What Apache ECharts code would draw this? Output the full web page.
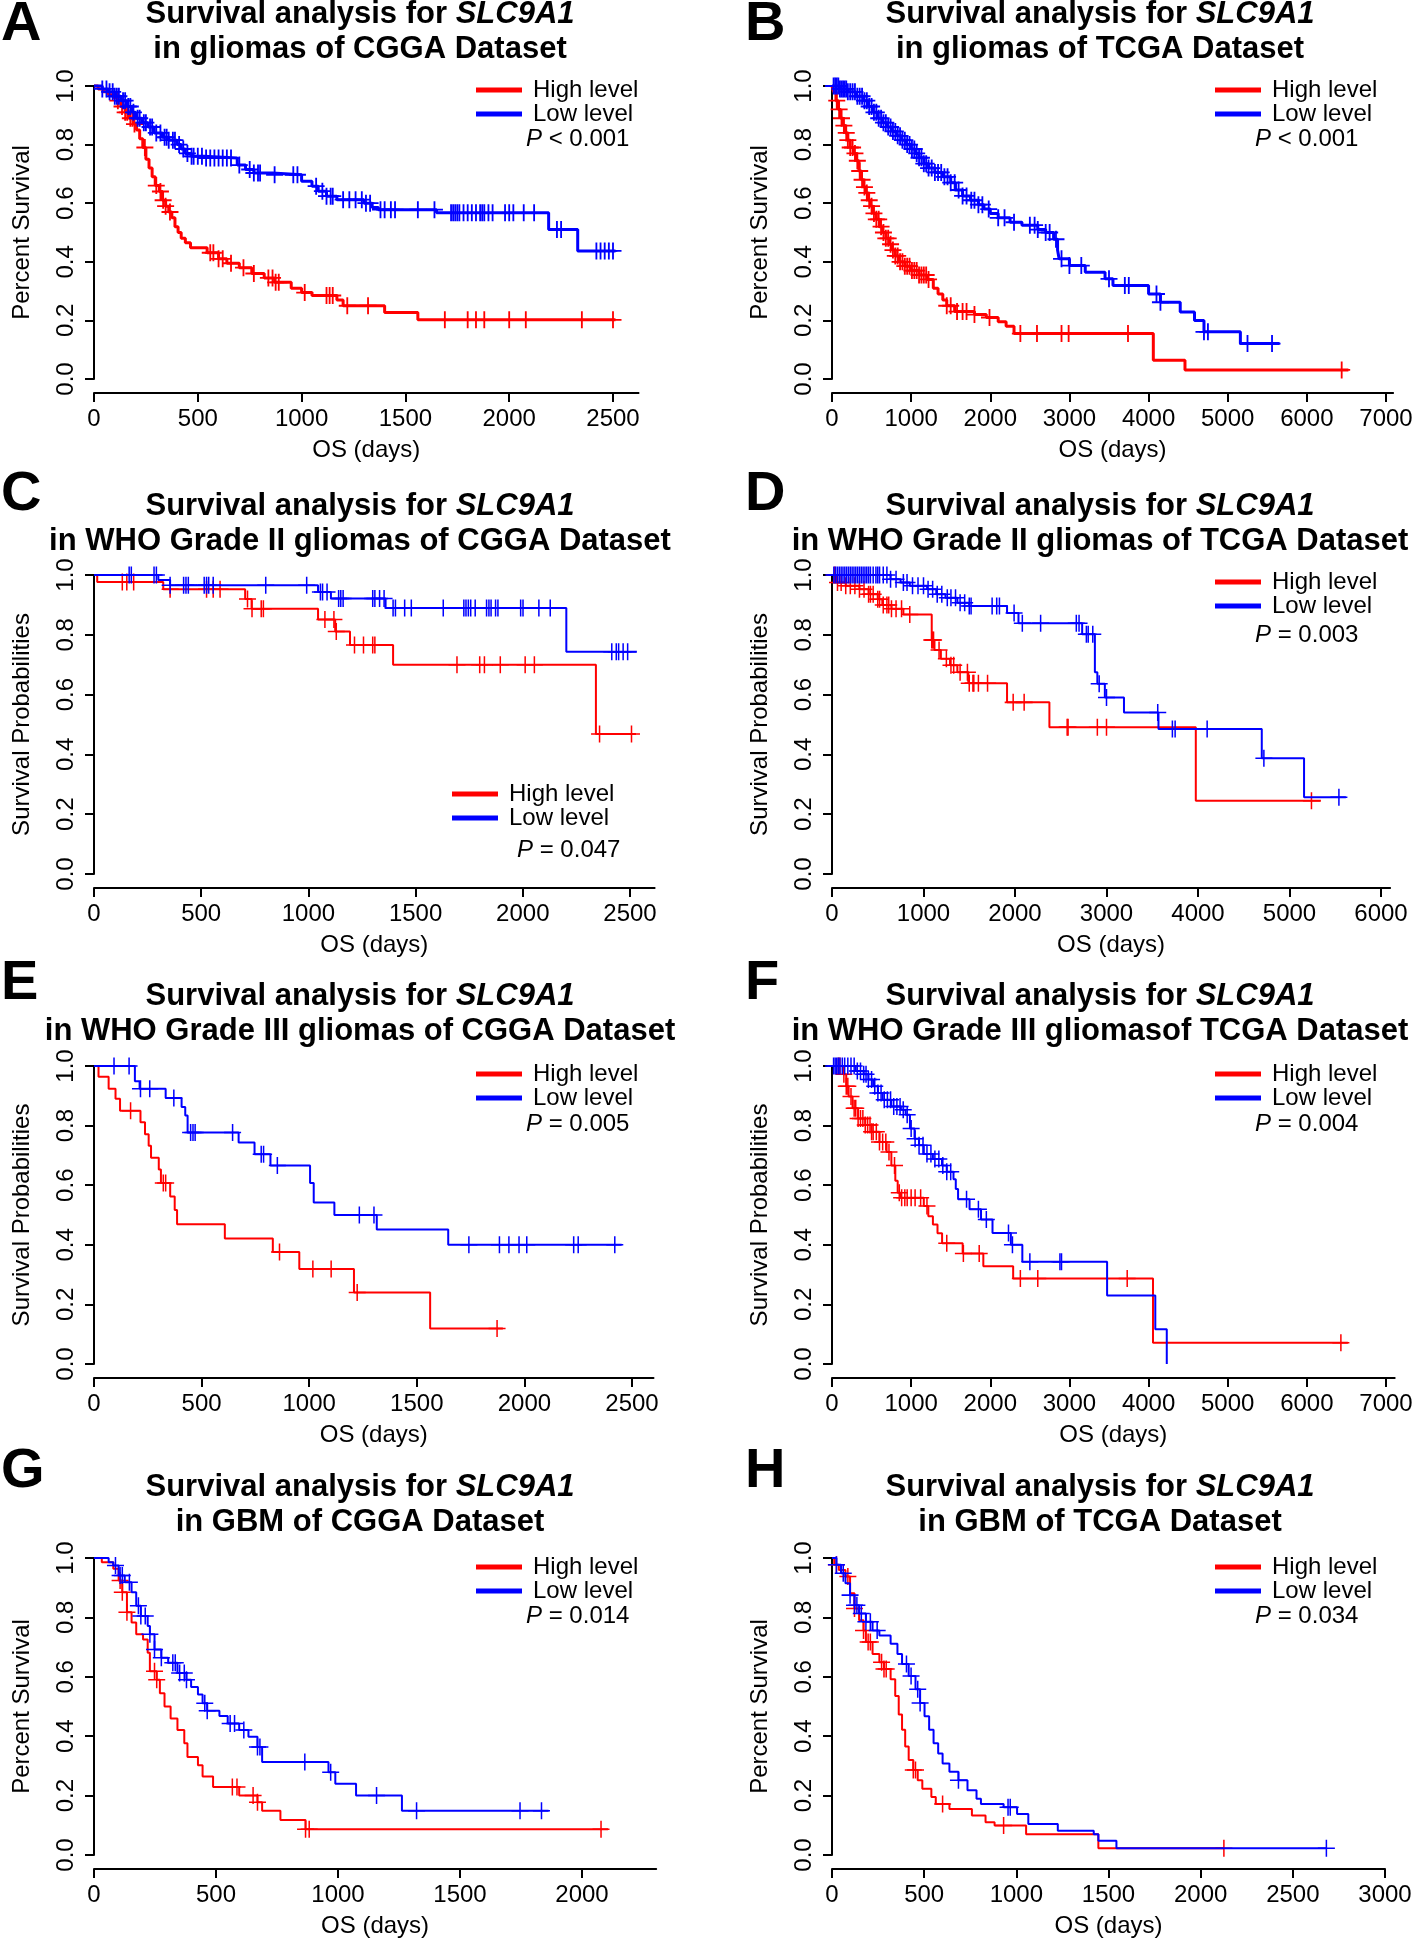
<!DOCTYPE html>
<html><head><meta charset="utf-8">
<script src="https://cdn.jsdelivr.net/npm/echarts@6/dist/echarts.min.js"></script>
<style>html,body{margin:0;padding:0;background:#fff}#c{width:1418px;height:1941px}</style>
</head><body><div id="c"></div>
<script>
// ---------------- DATA ----------------
// [time (days), survival after the event]
const aHighSteps = [[0,1],[20,0.99],[45,0.98],[70,0.97],[95,0.96],[115,0.95],[130,0.93],[150,0.91],[170,0.89],[190,0.87],[205,0.85],[220,0.82],[235,0.79],[250,0.75],[265,0.72],[280,0.69],[295,0.66],[315,0.64],[330,0.61],[345,0.59],[360,0.57],[375,0.55],[390,0.52],[405,0.50],[420,0.48],[440,0.465],[465,0.448],[545,0.431],[600,0.41],[640,0.395],[700,0.38],[760,0.36],[820,0.345],[870,0.33],[950,0.31],[1000,0.295],[1050,0.285],[1170,0.27],[1200,0.25],[1400,0.227],[1560,0.202]];
const aHighCensor = [115,135,150,160,175,185,195,245,300,320,333,345,366,560,575,600,620,660,720,770,840,860,875,890,1015,1120,1135,1150,1220,1320,1690,1800,1840,1880,2000,2080,2350,2500];
const aLowSteps = [[0,1],[40,0.99],[70,0.98],[100,0.965],[130,0.95],[160,0.93],[185,0.91],[200,0.89],[230,0.875],[260,0.86],[290,0.84],[330,0.825],[360,0.815],[400,0.80],[420,0.785],[440,0.77],[470,0.76],[530,0.754],[690,0.73],[730,0.715],[770,0.703],[860,0.697],[1000,0.675],[1050,0.658],[1080,0.641],[1120,0.624],[1170,0.612],[1300,0.60],[1340,0.585],[1370,0.578],[1650,0.567],[2190,0.51],[2330,0.437]];
const aLowCensor = [40,60,75,90,100,110,120,140,150,165,175,190,210,220,240,250,270,280,300,320,340,350,360,380,390,410,430,450,470,480,500,520,540,560,580,600,620,640,660,700,750,770,790,800,870,960,980,1070,1100,1120,1140,1150,1200,1230,1260,1290,1310,1330,1380,1400,1430,1450,1560,1640,1720,1730,1740,1750,1760,1780,1800,1820,1840,1860,1870,1880,1900,1920,1980,2000,2020,2070,2120,2230,2250,2420,2440,2460,2480,2500];

const bHighSteps = [[0,1],[20,0.98],[50,0.95],[80,0.92],[110,0.89],[140,0.865],[170,0.84],[200,0.815],[230,0.79],[270,0.77],[310,0.745],[340,0.71],[370,0.68],[400,0.655],[430,0.635],[460,0.61],[490,0.59],[520,0.565],[560,0.545],[600,0.52],[640,0.50],[680,0.48],[720,0.46],[760,0.44],[800,0.42],[850,0.40],[920,0.385],[1000,0.37],[1100,0.355],[1200,0.34],[1280,0.31],[1340,0.29],[1400,0.27],[1450,0.25],[1550,0.23],[1800,0.22],[1950,0.21],[2100,0.195],[2200,0.18],[2300,0.155],[4060,0.064],[4460,0.031]];
const bHighCensor = [60,90,120,150,180,200,230,260,290,320,350,380,410,440,470,500,530,560,590,620,650,680,710,740,770,800,830,860,890,920,950,980,1010,1040,1070,1100,1130,1160,1190,1220,1450,1500,1580,1650,1700,1800,1990,2380,2590,2900,2990,3740,6440];
const bLowSteps = [[0,1],[100,0.99],[200,0.98],[300,0.965],[400,0.95],[460,0.93],[520,0.91],[580,0.89],[640,0.875],[700,0.86],[760,0.845],[820,0.83],[880,0.815],[940,0.80],[1000,0.785],[1050,0.77],[1100,0.755],[1160,0.735],[1220,0.72],[1300,0.705],[1400,0.69],[1500,0.67],[1560,0.645],[1650,0.625],[1750,0.61],[1850,0.595],[1920,0.58],[2000,0.565],[2100,0.55],[2250,0.535],[2400,0.525],[2600,0.51],[2700,0.50],[2800,0.477],[2850,0.44],[2870,0.41],[3000,0.387],[3200,0.364],[3450,0.342],[3550,0.319],[4000,0.29],[4150,0.262],[4400,0.229],[4580,0.2],[4700,0.161],[5160,0.121]];
const bLowCensor = [20,40,60,80,100,120,140,160,180,200,230,260,290,320,350,380,410,440,470,500,530,560,590,620,650,680,710,740,770,800,830,860,890,920,950,980,1010,1040,1070,1100,1130,1160,1190,1220,1260,1300,1340,1380,1420,1460,1500,1550,1600,1650,1700,1760,1800,1850,1900,1980,2100,2180,2300,2500,2560,2600,2700,2750,2830,2900,3000,3150,3500,3700,3750,4100,4150,4700,4750,5250,5560];

const cHighSteps = [[0,1],[15,0.977],[323,0.952],[705,0.92],[735,0.887],[1045,0.851],[1125,0.811],[1194,0.766],[1395,0.70],[2341,0.468]];
const cHighCensor = [132,153,185,355,525,556,588,716,737,780,790,1077,1119,1130,1215,1257,1300,1310,1693,1799,1821,1895,2011,2054,2358,2507];
const cLowSteps = [[0,1],[300,0.983],[355,0.966],[1045,0.943],[1105,0.921],[1360,0.89],[2203,0.743]];
const cLowCensor = [164,174,280,291,355,418,429,440,514,525,535,556,801,992,1056,1066,1087,1141,1151,1162,1300,1310,1332,1353,1395,1406,1449,1480,1629,1725,1735,1746,1757,1778,1831,1842,1852,1873,1884,1990,2001,2075,2128,2415,2436,2447,2468,2489];

const dHighSteps = [[0,1],[50,0.975],[150,0.964],[300,0.952],[400,0.936],[500,0.919],[550,0.90],[650,0.887],[780,0.868],[1090,0.783],[1120,0.749],[1190,0.72],[1290,0.698],[1370,0.675],[1490,0.638],[1913,0.574],[2376,0.491],[3976,0.245]];
const dHighCensor = [30,60,100,150,200,250,300,350,400,420,450,500,520,560,600,620,650,700,760,850,1090,1100,1110,1170,1250,1300,1330,1400,1480,1500,1540,1550,1600,1700,1980,2100,2570,2580,2900,3000,5240];
const dLowSteps = [[0,1],[640,0.986],[750,0.975],[850,0.964],[1040,0.952],[1140,0.936],[1240,0.924],[1370,0.907],[1500,0.896],[1913,0.873],[2038,0.839],[2734,0.802],[2873,0.675],[2900,0.636],[2982,0.59],[3191,0.54],[3568,0.485],[4697,0.387],[5159,0.257]];
const dLowCensor = [20,40,60,80,100,120,140,160,180,200,220,240,260,280,300,320,340,360,380,400,420,450,480,500,520,560,600,640,700,780,820,880,940,1000,1050,1100,1150,1200,1260,1300,1350,1400,1450,1500,1520,1750,1800,1830,1990,2080,2280,2670,2700,2780,2800,2850,2920,3000,3560,3720,3750,4100,4720,5540];

const eHighSteps = [[0,1],[21,0.964],[68,0.924],[100,0.89],[121,0.85],[216,0.811],[237,0.771],[254,0.732],[265,0.692],[301,0.653],[311,0.607],[354,0.562],[375,0.517],[386,0.469],[608,0.421],[831,0.376],[954,0.319],[1208,0.24],[1562,0.119]];
const eHighCensor = [170,322,333,862,1017,1102,1223,1873];
const eLowSteps = [[0,1],[190,0.949],[212,0.924],[333,0.893],[407,0.862],[424,0.834],[435,0.777],[672,0.743],[746,0.704],[820,0.666],[1004,0.607],[1021,0.542],[1117,0.5],[1314,0.451],[1646,0.4]];
const eLowCensor = [93,163,216,259,371,449,460,470,644,777,788,852,1233,1301,1742,1884,1928,1975,2011,2229,2250,2420];

const fHighSteps = [[0,1],[145,0.972],[180,0.932],[210,0.898],[260,0.858],[330,0.824],[420,0.802],[500,0.779],[600,0.745],[690,0.711],[750,0.666],[800,0.615],[830,0.575],[869,0.558],[1160,0.53],[1217,0.496],[1275,0.468],[1333,0.439],[1391,0.405],[1651,0.371],[1912,0.328],[2289,0.287],[4056,0.071]];
const fHighCensor = [80,100,150,180,200,240,280,300,330,360,390,420,450,480,500,520,560,600,640,680,720,790,850,880,920,950,1000,1050,1120,1200,1450,1660,1860,2380,2600,3730,6430];
const fLowSteps = [[0,1],[300,0.983],[400,0.972],[460,0.955],[520,0.932],[580,0.909],[640,0.887],[750,0.864],[870,0.853],[930,0.836],[985,0.79],[1043,0.756],[1100,0.734],[1160,0.705],[1275,0.688],[1390,0.666],[1450,0.645],[1535,0.62],[1564,0.587],[1593,0.553],[1738,0.519],[1883,0.485],[2028,0.44],[2260,0.40],[2405,0.343],[3476,0.23],[4085,0.117],[4230,0]];
const fLowCensor = [20,40,60,80,100,130,160,200,240,280,320,360,400,430,460,500,540,580,620,660,700,740,780,820,860,900,950,1000,1050,1100,1150,1200,1250,1300,1350,1400,1450,1500,1700,1850,1950,2230,2280,2500,2880,2900];

const gHighSteps = [[0,1],[32,0.986],[79,0.964],[101,0.924],[116,0.885],[135,0.817],[154,0.783],[173,0.743],[201,0.726],[220,0.681],[229,0.619],[257,0.59],[270,0.545],[289,0.5],[314,0.46],[342,0.421],[370,0.376],[383,0.33],[426,0.302],[445,0.264],[488,0.229],[595,0.20],[670,0.178],[689,0.149],[764,0.118],[867,0.087]];
const gHighCensor = [107,116,135,248,257,567,586,652,670,867,882,2078];
const gLowSteps = [[0,1],[60,0.986],[79,0.975],[101,0.941],[126,0.918],[154,0.885],[173,0.839],[192,0.805],[220,0.771],[229,0.743],[248,0.692],[276,0.664],[304,0.647],[342,0.613],[379,0.59],[398,0.566],[426,0.54],[445,0.511],[464,0.486],[514,0.468],[548,0.443],[595,0.421],[633,0.398],[670,0.364],[689,0.313],[961,0.279],[989,0.24],[1074,0.20],[1262,0.149]];
const gLowCensor = [88,107,116,145,182,192,210,229,248,276,323,333,351,370,379,454,464,558,576,614,670,680,864,970,1158,1322,1746,1834];

const hHighSteps = [[0,1],[12,0.977],[37,0.96],[73,0.938],[98,0.881],[122,0.83],[147,0.79],[171,0.756],[184,0.717],[220,0.677],[257,0.649],[282,0.626],[318,0.592],[343,0.535],[362,0.473],[380,0.422],[397,0.365],[416,0.32],[441,0.286],[465,0.252],[490,0.223],[539,0.195],[563,0.172],[637,0.155],[759,0.133],[833,0.11],[882,0.099],[1053,0.07],[1445,0.023]];
const hHighCensor = [24,86,122,171,196,208,269,282,294,441,453,600,931,2126];
const hLowSteps = [[0,1],[24,0.977],[49,0.949],[73,0.915],[98,0.875],[122,0.841],[147,0.813],[184,0.785],[220,0.756],[257,0.739],[318,0.711],[355,0.677],[380,0.643],[416,0.603],[453,0.558],[478,0.512],[502,0.467],[527,0.422],[551,0.376],[576,0.342],[600,0.308],[637,0.28],[686,0.252],[735,0.218],[784,0.189],[808,0.172],[931,0.161],[1004,0.138],[1065,0.104],[1225,0.082],[1420,0.07],[1445,0.048],[1543,0.023]];
const hLowCensor = [24,61,98,122,135,159,184,208,245,404,429,465,478,686,955,967,2682];

// last follow-up time of each curve (A..H)
const highEnd = [2512, 6525, 2528, 5343, 1900, 6518, 2107, 2126];
const lowEnd  = [2512, 5655, 2532, 5616, 2452, 4230, 1863, 2682];

const panelLetters = ['A','B','C','D','E','F','G','H'];
const titleGene = 'SLC9A1';
const titleLine2 = ['in gliomas of CGGA Dataset','in gliomas of TCGA Dataset','in WHO Grade II gliomas of CGGA Dataset','in WHO Grade II gliomas of TCGA Dataset','in WHO Grade III gliomas of CGGA Dataset','in WHO Grade III gliomasof TCGA Dataset','in GBM of CGGA Dataset','in GBM of TCGA Dataset'];
const yAxisNames = ['Percent Survival','Percent Survival','Survival Probabilities','Survival Probabilities','Survival Probabilities','Survival Probabilities','Percent Survival','Percent Survival'];
const pValueText = ['< 0.001','< 0.001','= 0.047','= 0.003','= 0.005','= 0.004','= 0.014','= 0.034'];
const xTicks = [
  [0,500,1000,1500,2000,2500],
  [0,1000,2000,3000,4000,5000,6000,7000],
  [0,500,1000,1500,2000,2500],
  [0,1000,2000,3000,4000,5000,6000],
  [0,500,1000,1500,2000,2500],
  [0,1000,2000,3000,4000,5000,6000,7000],
  [0,500,1000,1500,2000],
  [0,500,1000,1500,2000,2500,3000]
];
const xAxisMax = [2623, 7090, 2615, 6100, 2600, 7110, 2304, 3000];
const yTicks = [0, 0.2, 0.4, 0.6, 0.8, 1.0];
const seriesNames = ['High level','Low level'];

// ---------------- LAYOUT ----------------
const FONT = "'Liberation Sans', Arial, Helvetica, sans-serif";
const RED = '#ff0000', BLUE = '#0000ff';
const curves = [
  [aHighSteps,aHighCensor,aLowSteps,aLowCensor],
  [bHighSteps,bHighCensor,bLowSteps,bLowCensor],
  [cHighSteps,cHighCensor,cLowSteps,cLowCensor],
  [dHighSteps,dHighCensor,dLowSteps,dLowCensor],
  [eHighSteps,eHighCensor,eLowSteps,eLowCensor],
  [fHighSteps,fHighCensor,fLowSteps,fLowCensor],
  [gHighSteps,gHighCensor,gLowSteps,gLowCensor],
  [hHighSteps,hHighCensor,hLowSteps,hLowCensor]
];
const rowTop = [86, 575, 1066, 1558];
const rowH = [293, 299, 298, 297];
const rowTitleY = [32, 524, 1014, 1505];
const rowLetterY = [25, 495, 984, 1472];
const colLeft = [94, 832];
const lastTickPx = [613, 1386, 630, 1381, 632, 1386, 582, 1385];
const legendPos = [[476,88],[1215,88],[452,792],[1215,580],[476,1072],[1215,1072],[476,1565],[1215,1565]];
const pPos = [[526,139],[1255,139],[517,850],[1255,635],[526,1124],[1255,1124],[526,1616],[1255,1616]];
const lineW = [3,3,2,2,2,2,2,2];

function crossPath(h) { // h = half thickness in a 14x14 box
  return `path://M${-h},-7L${h},-7L${h},${-h}L7,${-h}L7,${h}L${h},${h}L${h},7L${-h},7L${-h},${h}L-7,${h}L-7,${-h}L${-h},${-h}Z`;
}
function survAt(steps, t) { let s = 1; for (const p of steps) { if (p[0] <= t) s = p[1]; else break; } return s; }
function lineData(steps, end) {
  const d = steps.map(p => [p[0], p[1]]);
  const last = steps[steps.length - 1];
  if (end > last[0]) d.push([end, last[1]]);
  return d;
}

const option = {
  animation: false, backgroundColor: '#ffffff',
  textStyle: { fontFamily: FONT },
  grid: [], xAxis: [], yAxis: [], series: [], legend: [], graphic: []
};

for (let i = 0; i < 8; i++) {
  const row = Math.floor(i / 2), col = i % 2;
  const left = colLeft[col];
  const ticks = xTicks[i];
  const lastTick = ticks[ticks.length - 1];
  const width = (lastTickPx[i] - left) * xAxisMax[i] / lastTick;
  option.grid.push({ left: left, top: rowTop[row], width: width, height: rowH[row], containLabel: false, outerBoundsMode: 'none' });
  option.xAxis.push({
    type: 'value', gridIndex: i, min: 0, max: xAxisMax[i], position: 'bottom', offset: 14,
    name: 'OS (days)', nameLocation: 'middle', nameGap: 45, nameMoveOverlap: false,
    nameTextStyle: { fontSize: 24, color: '#000', fontFamily: FONT },
    axisLine: { show: true, onZero: false, lineStyle: { color: '#000', width: 2 } },
    axisTick: { show: true, length: 9, lineStyle: { color: '#000', width: 2 }, customValues: ticks },
    axisLabel: { show: true, fontSize: 24, color: '#000', fontFamily: FONT, margin: 14, customValues: ticks, formatter: v => String(v) },
    splitLine: { show: false }
  });
  option.yAxis.push({
    type: 'value', gridIndex: i, min: 0, max: 1, interval: 0.2,
    name: yAxisNames[i], nameLocation: 'middle', nameGap: 60, nameRotate: 90, nameMoveOverlap: false,
    nameTextStyle: { fontSize: 24, color: '#000', fontFamily: FONT },
    axisLine: { show: true, onZero: false, lineStyle: { color: '#000', width: 2 } },
    axisTick: { show: true, length: 9, lineStyle: { color: '#000', width: 2 }, customValues: yTicks },
    axisLabel: { show: true, rotate: 90, fontSize: 24, color: '#000', fontFamily: FONT, margin: 16, customValues: yTicks, formatter: v => v.toFixed(1) },
    splitLine: { show: false }
  });
  const [hs, hc, ls, lc] = curves[i];
  const sets = [[hs, hc, highEnd[i], RED, seriesNames[0]], [ls, lc, lowEnd[i], BLUE, seriesNames[1]]];
  sets.forEach(([steps, cens, end, color, name], k) => {
    option.series.push({
      type: 'line', name: name, xAxisIndex: i, yAxisIndex: i, data: lineData(steps, end),
      step: 'end', symbol: 'none', showSymbol: false, clip: false, silent: true,
      color: color, itemStyle: { color: color }, lineStyle: { color: color, width: lineW[i] }, z: 2 + k * 2
    });
    option.series.push({
      type: 'scatter', name: name + ' (censored)', xAxisIndex: i, yAxisIndex: i,
      data: cens.map(t => [t, survAt(steps, t)]),
      symbol: crossPath(i < 2 ? 0.75 : 0.62), symbolSize: 17, clip: false, silent: true,
      itemStyle: { color: color, opacity: 1 }, z: 3 + k * 2
    });
  });
  option.legend.push({
    show: true, orient: 'vertical', left: legendPos[i][0], top: legendPos[i][1] - 10, padding: 0,
    itemWidth: 46, itemHeight: 5, itemGap: 0, icon: 'rect', selectedMode: false,
    data: seriesNames,
    textStyle: { fontSize: 24, lineHeight: 20, color: '#000', fontFamily: FONT, padding: [0, 0, 0, 6] }
  });
  option.graphic.push({
    type: 'text', x: (col === 0 ? 360 : 1100), y: rowTitleY[row], silent: true,
    style: {
      text: '{b|Survival analysis for }{bi|' + titleGene + '}\n{b|' + titleLine2[i] + '}',
      align: 'center', verticalAlign: 'middle', fill: '#000',
      rich: {
        b: { fontFamily: FONT, fontSize: 31, fontWeight: 'bold', lineHeight: 35, fill: '#000' },
        bi: { fontFamily: FONT, fontSize: 31, fontWeight: 'bold', fontStyle: 'italic', lineHeight: 35, fill: '#000' }
      }
    }
  });
  option.graphic.push({
    type: 'text', x: (col === 0 ? 1 : 745), y: rowLetterY[row], silent: true,
    style: { text: panelLetters[i], fontFamily: FONT, fontSize: 56, fontWeight: 'bold', fill: '#000', align: 'left', verticalAlign: 'middle' }
  });
  option.graphic.push({
    type: 'text', x: pPos[i][0], y: pPos[i][1], silent: true,
    style: {
      text: '{i|P} ' + pValueText[i], fontFamily: FONT, fontSize: 24, fill: '#000', align: 'left', verticalAlign: 'middle',
      rich: { i: { fontFamily: FONT, fontSize: 24, fontStyle: 'italic', fill: '#000' } }
    }
  });
}

const chart = echarts.init(document.getElementById('c'), null, { renderer: 'canvas', width: 1418, height: 1941 });
chart.setOption(option);
</script>
</body></html>
